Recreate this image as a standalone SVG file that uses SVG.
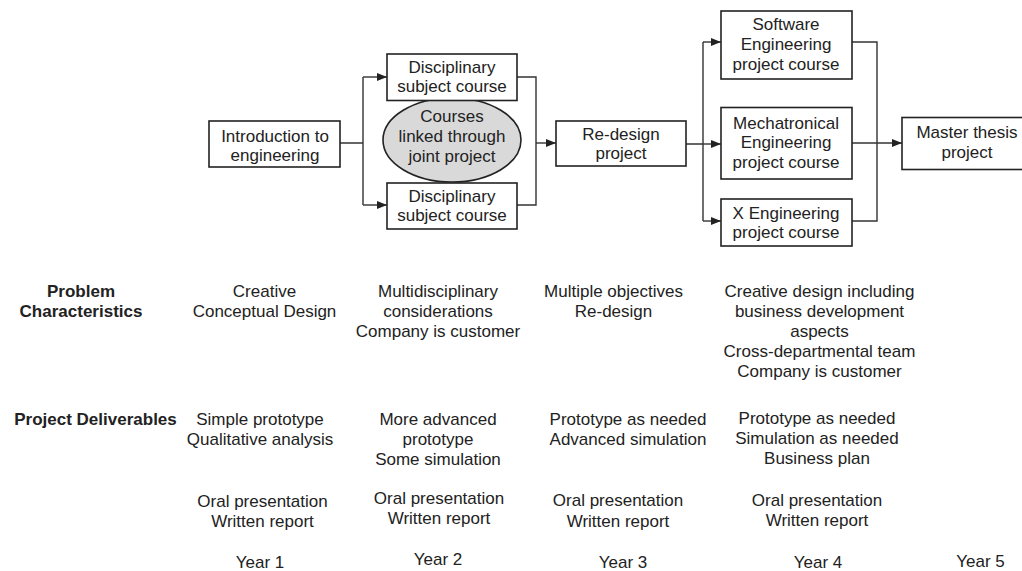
<svg xmlns="http://www.w3.org/2000/svg" width="1022" height="571" viewBox="0 0 1022 571">
<style>
text{font-family:"Liberation Sans",Arial,sans-serif;font-size:17px;fill:#222;text-anchor:middle}
.b{font-weight:bold}
.box{fill:#fff;stroke:#222;stroke-width:1.6}
.ell{fill:#d9d9d9;stroke:#222;stroke-width:1.6}
.c{fill:none;stroke:#333;stroke-width:1.4}
.a{marker-end:url(#arr)}
</style>
<defs>
<marker id="arr" markerUnits="userSpaceOnUse" markerWidth="10" markerHeight="8" refX="10" refY="4" orient="auto">
<path d="M0,0 L10,4 L0,8 z" fill="#222"/>
</marker>
</defs>
<rect width="1022" height="571" fill="#fff"/>
<g id="connectors">
<path class="c" d="M340,143 H363 M363,77 V205"/>
<path class="c a" d="M363,77 H387"/>
<path class="c a" d="M363,205 H387"/>
<path class="c" d="M517,77 H536 V205 H517"/>
<path class="c a" d="M536,143 H556"/>
<path class="c" d="M686,144 H703 M703,42 V221"/>
<path class="c a" d="M703,42 H721"/>
<path class="c a" d="M703,144 H721"/>
<path class="c a" d="M703,221 H721"/>
<path class="c" d="M852,42 H877 V221 H852"/>
<path class="c a" d="M852,143 H902"/>
</g>
<g id="intro">
<rect class="box" x="209" y="121" width="131" height="46"/>
<text x="275" y="141.5">Introduction to</text>
<text x="275" y="160.5">engineering</text>
</g>
<g id="joint">
<ellipse class="ell" cx="452" cy="140" rx="69" ry="42"/>
<text x="452" y="121.5">Courses</text>
<text x="452" y="141.5">linked through</text>
<text x="452" y="161.5">joint project</text>
</g>
<g id="disc1">
<rect class="box" x="387" y="54" width="130" height="46.5"/>
<text x="452" y="72.5">Disciplinary</text>
<text x="452" y="91.5">subject course</text>
</g>
<g id="disc2">
<rect class="box" x="387" y="183" width="130" height="46"/>
<text x="452" y="201.5">Disciplinary</text>
<text x="452" y="220.5">subject course</text>
</g>
<g id="redesign">
<rect class="box" x="556" y="121" width="130" height="45"/>
<text x="621" y="140">Re-design</text>
<text x="621" y="158.5">project</text>
</g>
<g id="software">
<rect class="box" x="721" y="11" width="131" height="68"/>
<text x="786" y="30">Software</text>
<text x="786" y="50">Engineering</text>
<text x="786" y="70">project course</text>
</g>
<g id="mecha">
<rect class="box" x="721" y="107.5" width="131" height="71.5"/>
<text x="786" y="128.5">Mechatronical</text>
<text x="786" y="148">Engineering</text>
<text x="786" y="167.5">project course</text>
</g>
<g id="xeng">
<rect class="box" x="721" y="199" width="131" height="47"/>
<text x="786" y="218.5">X Engineering</text>
<text x="786" y="238">project course</text>
</g>
<g id="master">
<rect class="box" x="902" y="117.5" width="130" height="52"/>
<text x="967" y="137.5">Master thesis</text>
<text x="967" y="157.5">project</text>
</g>
<g id="labels">
<text class="b" x="81" y="297">Problem</text>
<text class="b" x="81" y="317">Characteristics</text>
<text class="b" x="95.5" y="425">Project Deliverables</text>
</g>
<g id="year1">
<text x="264.5" y="297">Creative</text>
<text x="264.5" y="317">Conceptual Design</text>
<text x="260" y="425">Simple prototype</text>
<text x="260" y="444.5">Qualitative analysis</text>
<text x="262.5" y="507">Oral presentation</text>
<text x="262.5" y="526.5">Written report</text>
<text x="260" y="568">Year 1</text>
</g>
<g id="year2">
<text x="438" y="297">Multidisciplinary</text>
<text x="438" y="317">considerations</text>
<text x="438" y="337">Company is customer</text>
<text x="438" y="425">More advanced</text>
<text x="438" y="445">prototype</text>
<text x="438" y="465">Some simulation</text>
<text x="439" y="504">Oral presentation</text>
<text x="439" y="524">Written report</text>
<text x="438" y="565">Year 2</text>
</g>
<g id="year3">
<text x="613.5" y="297">Multiple objectives</text>
<text x="613.5" y="317">Re-design</text>
<text x="628" y="425">Prototype as needed</text>
<text x="628" y="445">Advanced simulation</text>
<text x="618" y="506">Oral presentation</text>
<text x="618" y="526.5">Written report</text>
<text x="623" y="568">Year 3</text>
</g>
<g id="year4">
<text x="819.5" y="297">Creative design including</text>
<text x="819.5" y="317">business development</text>
<text x="819.5" y="337">aspects</text>
<text x="819.5" y="357">Cross-departmental team</text>
<text x="819.5" y="377">Company is customer</text>
<text x="817" y="424">Prototype as needed</text>
<text x="817" y="444">Simulation as needed</text>
<text x="817" y="464">Business plan</text>
<text x="817" y="506">Oral presentation</text>
<text x="817" y="526">Written report</text>
<text x="818" y="568">Year 4</text>
</g>
<g id="year5">
<text x="980.5" y="567">Year 5</text>
</g>
</svg>
